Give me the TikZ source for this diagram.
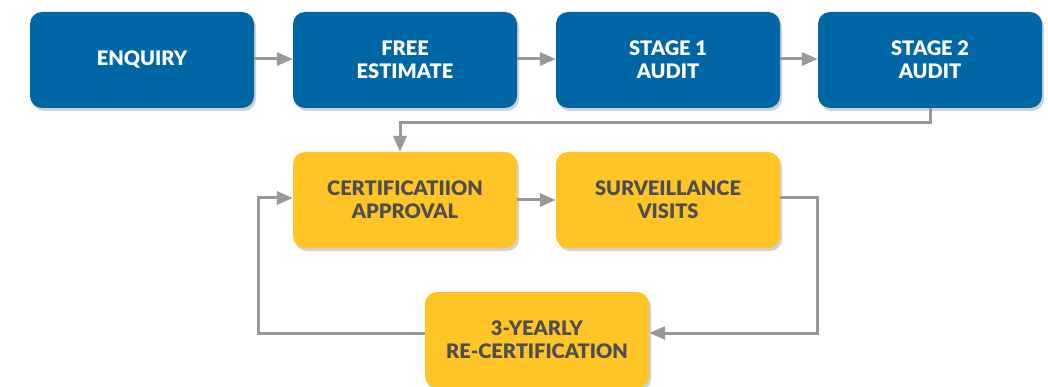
\documentclass[tikz,border=0pt]{standalone}
\usepackage{fontspec}
\setmainfont{Lato}[BoldFont={Lato Black}]
\usetikzlibrary{arrows.meta,shadows}
\definecolor{bluebox}{RGB}{0,103,167}
\definecolor{yellowbox}{RGB}{255,196,37}
\definecolor{arrowgray}{RGB}{151,153,156}
\definecolor{textgray}{RGB}{77,78,80}
\tikzset{
  x=1pt,y=-1pt,
  basebox/.style={rounded corners=12pt, minimum width=224pt, minimum height=96pt, inner sep=0pt, align=center,
    font=\fontsize{20}{23}\selectfont\bfseries,
    drop shadow={shadow xshift=2pt,shadow yshift=-3pt,opacity=0.18,fill=black}},
  bluestep/.style={basebox, fill=bluebox, text=white},
  yellowstep/.style={basebox, fill=yellowbox, text=textgray},
  conn/.style={draw=arrowgray, line width=3pt, -{Triangle[length=16pt,width=13pt]}}
}
\begin{document}
\begin{tikzpicture}
\useasboundingbox (0,0) rectangle (1048,387);
\fill[white] (0,0) rectangle (1048,387);
\node[bluestep] (enq) at (142,60) {ENQUIRY};
\node[bluestep] (free) at (405,60) {FREE\\ESTIMATE};
\node[bluestep] (s1) at (668,60) {STAGE 1\\AUDIT};
\node[bluestep] (s2) at (930,60) {STAGE 2\\AUDIT};
\node[yellowstep] (cert) at (405,200) {CERTIFICATIION\\APPROVAL};
\node[yellowstep] (surv) at (668,200) {SURVEILLANCE\\VISITS};
\node[yellowstep] (recert) at (537,340) {3-YEARLY\\RE-CERTIFICATION};
\draw[conn] ([yshift=1pt]enq.east) -- ([yshift=1pt]free.west);
\draw[conn] ([yshift=1pt]free.east) -- ([yshift=1pt]s1.west);
\draw[conn] ([yshift=1pt]s1.east) -- ([yshift=1pt]s2.west);
\draw[conn] (s2.south) -- ++(0,14) -| ([xshift=-5pt]cert.north);
\draw[conn] (cert) -- (surv);
\draw[conn] ([yshift=2pt]surv.east) -| (817,333) -- ([yshift=7pt]recert.east);
\draw[conn] ([yshift=7pt]recert.west) -| (258,198) -- ([yshift=2pt]cert.west);
\end{tikzpicture}
\end{document}
